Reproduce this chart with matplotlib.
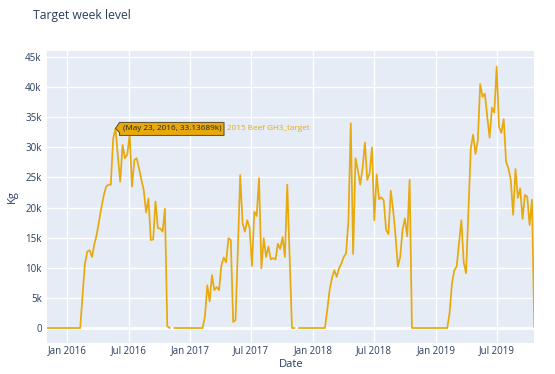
import matplotlib
matplotlib.use("Agg")
import matplotlib.pyplot as plt
import matplotlib.dates as mdates
import matplotlib.ticker as mticker
import matplotlib.transforms as mtransforms
from matplotlib.patches import Polygon
import numpy as np
import pandas as pd

# weekly target values, thousands of kg (nan = no data)
start_date = "2015-11-02"
target_k = [
    0, 0, 0, 0, 0, 0, 0, 0, 0, 0, 0, 0, 0, 0, 0,
    5.5, 10.7, 12.7, 12.9, 11.8, 13.9, 15.5, 17.8, 20.0, 22.0, 23.5, 23.8, 23.8,
    31.5, 33.13689, 28.5, 24.3, 30.4, 28.2, 28.8, 32.2, 23.5, 27.9, 28.2, 26.5,
    24.6, 22.9, 19.2, 21.5, 14.6, 14.7, 21.0, 16.6, 16.5, 16.0, 19.8, 0.3, 0,
    np.nan,
    0, 0, 0, 0, 0, 0, 0, 0, 0, 0, 0, 0, 0,
    1.9, 7.1, 4.4, 8.8, 6.3, 6.8, 6.3, 10.4, 11.7, 10.9, 14.9, 14.6, 1.0, 1.3,
    13.0, 25.4, 17.4, 16.0, 17.9, 16.6, 10.3, 19.3, 18.6, 24.9, 9.9, 14.9, 11.8,
    13.5, 11.4, 11.6, 11.4, 14.0, 13.1, 15.1, 11.8, 23.8, 11.9, 0, 0,
    np.nan,
    0, 0, 0, 0, 0, 0, 0, 0, 0, 0, 0, 0,
    3.0, 6.3, 8.3, 9.6, 8.5, 9.9, 10.7, 11.8, 12.4, 17.9, 34.0, 12.3, 28.2,
    26.2, 23.8, 26.5, 30.8, 24.6, 25.7, 30.0, 17.9, 25.5, 21.4, 21.7, 21.2,
    16.3, 15.6, 22.8, 19.6, 15.4, 10.2, 11.8, 16.3, 18.2, 15.2, 24.6,
    0, 0, 0, 0, 0, 0, 0, 0, 0, 0, 0, 0, 0, 0, 0, 0,
    2.5, 7.4, 9.6, 10.2, 14.0, 17.9, 10.9, 9.1, 19.5, 29.8, 32.1, 28.9, 31.2,
    40.5, 38.4, 38.9, 35.1, 31.6, 36.6, 35.8, 43.4, 33.4, 32.4, 34.7, 27.6,
    26.5, 24.6, 18.8, 26.4, 21.6, 23.2, 18.1, 22.1, 21.8, 17.1, 21.3, 0.2,
]
series_name = "2015 Beef GH3_target"
hover_index = 29  # May 23, 2016

dates = pd.date_range(start_date, periods=len(target_k), freq="7D")
values = np.array(target_k) * 1000

line_color = "#E8A90C"
text_color = "#2a3f5f"
plt.rcParams["font.family"] = ["Open Sans", "DejaVu Sans"]

fig = plt.figure(figsize=(5.55, 3.74), dpi=100)
ax = fig.add_axes([0.0852, 0.0837, 0.8775, 0.7799])
ax.set_facecolor("#E5ECF6")
for s in ax.spines.values():
    s.set_visible(False)

ax.plot(dates, values, color=line_color, lw=1.25, zorder=3)

ax.set_xlim(dates[0], dates[-1])
ax.set_ylim(-2440, 46000)
ax.set_yticks(np.arange(0, 45001, 5000))
ax.yaxis.set_major_formatter(mticker.FuncFormatter(
    lambda v, p: "0" if v == 0 else f"{int(v / 1000)}k"))
ax.xaxis.set_major_locator(mdates.MonthLocator(bymonth=[1, 7]))
ax.xaxis.set_major_formatter(mdates.DateFormatter("%b %Y"))
ax.grid(color="white", lw=1, zorder=0)
ax.axhline(0, color="white", lw=2, zorder=1)
ax.tick_params(axis="x", length=0, colors=text_color, labelsize=7, pad=1.5)
ax.tick_params(axis="y", length=0, colors=text_color, labelsize=7, pad=4)

ax.set_xlabel("Date", color=text_color, fontsize=8, labelpad=2)
ax.set_ylabel("Kg", color=text_color, fontsize=8, labelpad=5)
fig.text(33 / 555, 1 - 16 / 374, "Target week level", color=text_color,
         fontsize=8.8, va="center", ha="left")

# hover label, box sized to its text
hx, hy = ax.transData.transform((mdates.date2num(dates[hover_index]),
                                 values[hover_index]))
ident = mtransforms.IdentityTransform()
label = (f"({dates[hover_index].strftime('%b %d, %Y').replace(' 0', ' ')}, "
         f"{target_k[hover_index]:.5f}k)")
t = fig.text(hx + 7, hy - 0.5, label, transform=ident, fontsize=5.9,
             color="#222222", va="center", ha="left", zorder=6)
fig.canvas.draw()
bb = t.get_window_extent()
w = bb.x1 - hx + 3
off = mtransforms.Affine2D().translate(hx, hy)
box = Polygon([(0, 0), (4, 6), (w, 6), (w, -7), (4, -7), (4, -4)],
              closed=True, fc=line_color, ec="#6b5a2a", lw=0.8,
              transform=off, zorder=5)
box.set_figure(fig)
fig.patches.append(box)
fig.text(hx + w + 3, hy - 0.5, series_name, transform=ident, fontsize=5.9,
         color=line_color, va="center", ha="left", zorder=6)

fig.savefig("out.png", dpi=100)
